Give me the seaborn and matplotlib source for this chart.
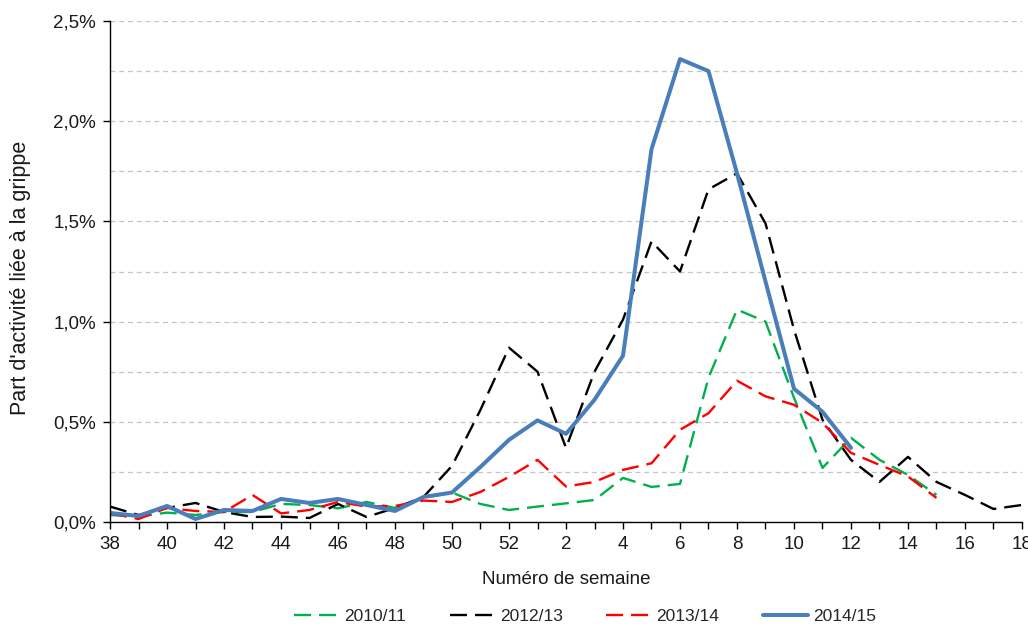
import matplotlib
matplotlib.use("Agg")
import matplotlib.pyplot as plt
import seaborn as sns
import pandas as pd
from matplotlib.ticker import FuncFormatter, MultipleLocator

# ---- data ----
weeks = list(range(38, 53)) + list(range(1, 19))

s2010_11 = [0.035, 0.027, 0.047, 0.035, 0.05, 0.05, 0.09, 0.085, 0.068, 0.10,
            0.07, 0.12, 0.147, 0.09, 0.06, 0.077, 0.093, 0.11, 0.22, 0.175,
            0.19, 0.72, 1.06, 1.0, 0.62, 0.27, 0.42, 0.31, 0.235, 0.135]
s2012_13 = [0.077, 0.035, 0.07, 0.095, 0.05, 0.025, 0.027, 0.02, 0.09, 0.025,
            0.07, 0.125, 0.28, 0.56, 0.87, 0.75, 0.37, 0.75, 1.01, 1.40,
            1.25, 1.66, 1.74, 1.49, 0.96, 0.51, 0.31, 0.20, 0.325, 0.20,
            0.135, 0.065, 0.085]
s2013_14 = [0.043, 0.015, 0.07, 0.055, 0.05, 0.135, 0.043, 0.06, 0.10, 0.077,
            0.08, 0.107, 0.10, 0.15, 0.225, 0.31, 0.177, 0.20, 0.26, 0.293,
            0.46, 0.543, 0.705, 0.627, 0.585, 0.495, 0.345, 0.285, 0.227, 0.12]
s2014_15 = [0.045, 0.03, 0.08, 0.015, 0.06, 0.055, 0.115, 0.095, 0.115, 0.085,
            0.055, 0.125, 0.147, 0.275, 0.41, 0.507, 0.44, 0.61, 0.83, 1.86,
            2.31, 2.25, 1.74, 1.20, 0.665, 0.55, 0.37]

seasons = ["2010/11", "2012/13", "2013/14", "2014/15"]
series = [s2010_11, s2012_13, s2013_14, s2014_15]
colors = ["#00B050", "#000000", "#FF0000", "#4A7EBB"]

frames = []
for name, vals in zip(seasons, series):
    frames.append(pd.DataFrame({"pos": list(range(len(vals))),
                                "week": weeks[:len(vals)],
                                "value": vals,
                                "season": name}))
df = pd.concat(frames, ignore_index=True)

sns.set_theme(style="white")
plt.rcParams["font.family"] = ["Liberation Sans", "DejaVu Sans"]

W, H = 1028, 626
fig = plt.figure(figsize=(W / 100, H / 100), dpi=100)
ax = fig.add_axes([110 / W, 1 - 522 / H, (1022 - 110) / W, (522 - 21) / H])

palette = dict(zip(seasons, colors))
dsh = (7.2, 3.4)
dashes = {"2010/11": dsh, "2012/13": dsh, "2013/14": dsh, "2014/15": ""}
sizes = {"2010/11": 1.7, "2012/13": 1.7, "2013/14": 1.7, "2014/15": 2.9}

sns.lineplot(data=df, x="pos", y="value", hue="season", style="season",
             size="season", hue_order=seasons, style_order=seasons,
             size_order=seasons, palette=palette, dashes=dashes, sizes=sizes,
             sort=False, ax=ax, legend=False)

# axes formatting
ax.set_xlim(0, len(weeks) - 1)
ax.set_ylim(0, 2.5)
ax.set_xticks(range(len(weeks)))
ax.set_xticklabels([str(w) if i % 2 == 0 else "" for i, w in enumerate(weeks)])
ax.yaxis.set_major_locator(MultipleLocator(0.5))
ax.yaxis.set_minor_locator(MultipleLocator(0.25))
ax.yaxis.set_major_formatter(FuncFormatter(lambda v, p: f"{v:.1f}%".replace(".", ",")))

ax.grid(False)
ax.grid(axis="y", which="both", linestyle=(0, (4, 3)), color="#c4c4c4", linewidth=0.9)
ax.set_axisbelow(True)

for s in ["top", "right"]:
    ax.spines[s].set_visible(False)
for s in ["left", "bottom"]:
    ax.spines[s].set_color("black")
    ax.spines[s].set_linewidth(1.0)

ax.tick_params(axis="x", which="major", direction="out", length=5, width=1,
               color="black", labelsize=13.5, labelcolor="#1a1a1a", pad=5)
ax.tick_params(axis="y", which="major", direction="out", length=5, width=1,
               color="black", labelsize=13.5, labelcolor="#1a1a1a", pad=5, left=True)
ax.tick_params(axis="y", which="minor", length=0)
ax.tick_params(axis="x", bottom=True)

ax.set_xlabel("Numéro de semaine", fontsize=13.5, color="#1a1a1a", labelpad=13)
ax.set_ylabel("Part d'activité liée à la grippe", fontsize=15.5, color="#1a1a1a")
ax.yaxis.set_label_coords((31 - 110) / 912, (522 - 278) / 501)

handles = ax.get_lines()[:4]
ax.legend(handles, seasons, loc="center", bbox_to_anchor=(0.521, -0.188),
          ncol=4, frameon=False, fontsize=12.5, handlelength=2.6,
          handletextpad=0.3, columnspacing=2.5)

fig.savefig("out.png", dpi=100)
